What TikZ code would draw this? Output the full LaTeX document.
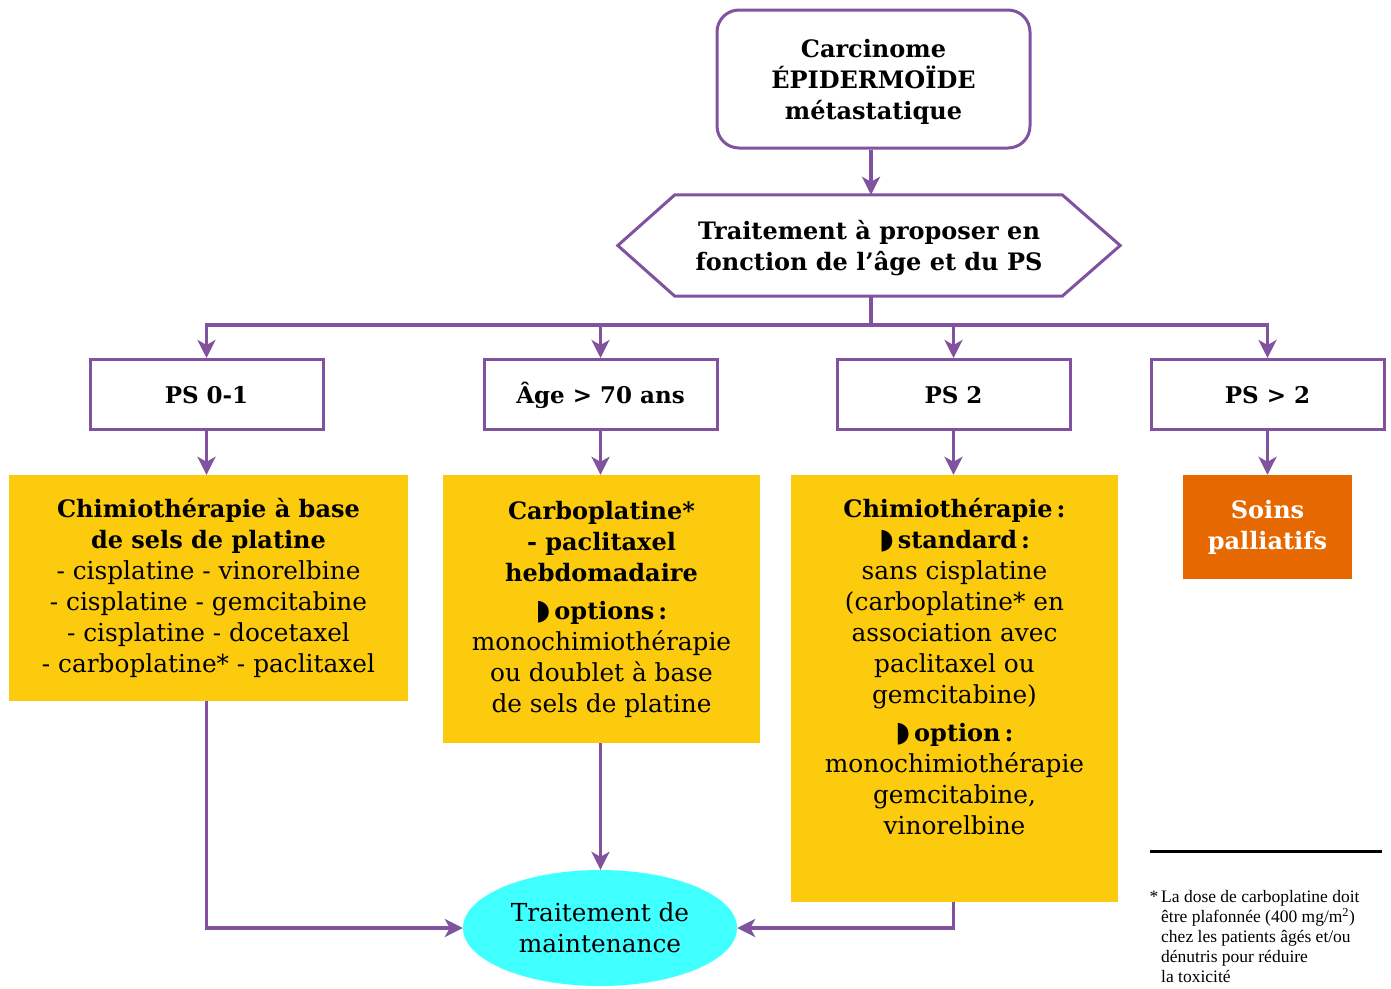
\documentclass[tikz,border=0pt]{standalone}
\usepackage{fontspec}
\setmainfont{DejaVu Serif}
\newfontfamily\symfont{DejaVu Sans}
\newfontfamily\notefont{Liberation Serif}
\usetikzlibrary{shapes.geometric,arrows.meta}
\definecolor{purp}{RGB}{128,82,160}
\definecolor{ylw}{RGB}{253,203,14}
\definecolor{orng}{RGB}{230,104,0}
\definecolor{cyn}{RGB}{64,255,255}
\newcommand{\bul}{{\symfont\fontsize{28}{31}\selectfont\char"25D7}\,}
\newcommand{\B}[1]{{\fontsize{24}{31}\selectfont\bfseries #1}}
\tikzset{
  line/.style={draw=purp,line width=3.5pt},
  arr/.style={line,-{Stealth[length=18pt,width=18pt,inset=5pt]}},
  mainfont/.style={font=\fontsize{24.8}{31}\selectfont,align=center,inner sep=0pt},
  boldfont/.style={font=\fontsize{24}{31}\selectfont\bfseries,align=center,inner sep=0pt},
  psbox/.style={boldfont,draw=purp,line width=3pt,fill=white,minimum width=233pt,minimum height=70pt,text height=22.5pt,text depth=4.5pt,font=\fontsize{23}{31}\selectfont\bfseries},
  ybox/.style={mainfont,fill=ylw},
}
\begin{document}
\begin{tikzpicture}[x=1pt,y=-1pt]
\useasboundingbox (0,0) rectangle (1391,988);
% top box
\node[boldfont,draw=purp,line width=3pt,rounded corners=22pt,minimum width=313pt,minimum height=138pt] (top) at (873.5,79) {\rule{0pt}{24pt}Carcinome\\ÉPIDERMOÏDE\\métastatique};
% hexagon
\node[boldfont,minimum width=502pt,minimum height=101pt] (hex) at (869,245.5) {\rule{0pt}{24.5pt}Traitement à proposer en\\fonction de l’âge et du PS};
\draw[line,line width=3pt,line join=miter] (hex.west) -- ([xshift=57pt]hex.north west) -- ([xshift=-58pt]hex.north east) -- (hex.east) -- ([xshift=-58pt]hex.south east) -- ([xshift=57pt]hex.south west) -- cycle;
% PS boxes
\node[psbox] (ps01) at (206.5,394.5) {PS 0-1};
\node[psbox] (age) at (600.5,394.5) {Âge > 70 ans};
\node[psbox] (ps2) at (953.5,394.5) {PS 2};
\node[psbox] (ps3) at (1267.5,394.5) {PS > 2};
% yellow boxes
\node[ybox,minimum width=399pt,minimum height=226pt] (y1) at (208.5,588) {\B{Chimiothérapie à base}\\\B{de sels de platine}\\- cisplatine - vinorelbine\\- cisplatine - gemcitabine\\- cisplatine - docetaxel\\- carboplatine* - paclitaxel};
\node[ybox,minimum width=317pt,minimum height=268pt] (y2) at (601.5,609) {\B{Carboplatine*}\\\B{- paclitaxel}\\\B{hebdomadaire}\\[7pt]\B{\bul options\,:}\\monochimiothérapie\\ou doublet à base\\de sels de platine};
\node[ybox,minimum width=327pt,minimum height=427pt] (y3) at (954.5,688.5) {\B{Chimiothérapie\,:}\\\B{\bul standard\,:}\\sans cisplatine\\(carboplatine* en\\association avec\\paclitaxel ou\\gemcitabine)\\[7pt]\B{\bul option\,:}\\monochimiothérapie\\gemcitabine,\\vinorelbine\rule[-44pt]{0pt}{0pt}};
\node[boldfont,fill=orng,text=white,minimum width=169pt,minimum height=104pt] (pal) at (1267.5,527) {Soins\\palliatifs};
% ellipse
\node[mainfont,ellipse,fill=cyn,minimum width=274pt,minimum height=116pt] (ell) at (600,928) {Traitement de\\maintenance};
% connectors
\coordinate (bar) at (871,325);
\draw[arr] (top.south -| 871,0) -- (hex.north -| 871,0);
\draw[line] (hex.south -| bar) -- (bar);
\draw[line,line cap=rect] (ps01.north |- bar) -- (ps3.north |- bar);
\draw[arr] (ps01.north |- bar) -- (ps01.north);
\draw[arr] (age.north |- bar) -- (age.north);
\draw[arr] (ps2.north |- bar) -- (ps2.north);
\draw[arr] (ps3.north |- bar) -- (ps3.north);
\draw[arr] (ps01.south) -- (ps01.south |- y1.north);
\draw[arr] (age.south) -- (age.south |- y2.north);
\draw[arr] (ps2.south) -- (ps2.south |- y3.north);
\draw[arr] (ps3.south) -- (ps3.south |- pal.north);
\draw[arr] (ps01.south |- y1.south) |- (ell.west);
\draw[arr] (age.south |- y2.south) -- (age.south |- ell.north);
\draw[arr] (ps2.south |- y3.south) |- (ell.east);
% footnote
\coordinate (ruleA) at (1150,851);
\coordinate (ruleB) at (1382,851);
\draw[line width=3pt] (ruleA) -- (ruleB);
\node[anchor=north west,align=left,inner sep=0pt,font=\notefont\fontsize{17.5}{20}\selectfont] (note) at (1161,890) {\makebox[0pt][r]{*\,}La dose de carboplatine doit\\être plafonnée (400 mg/m\textsuperscript{2})\\chez les patients âgés et/ou\\dénutris pour réduire\\la toxicité};
\end{tikzpicture}
\end{document}
